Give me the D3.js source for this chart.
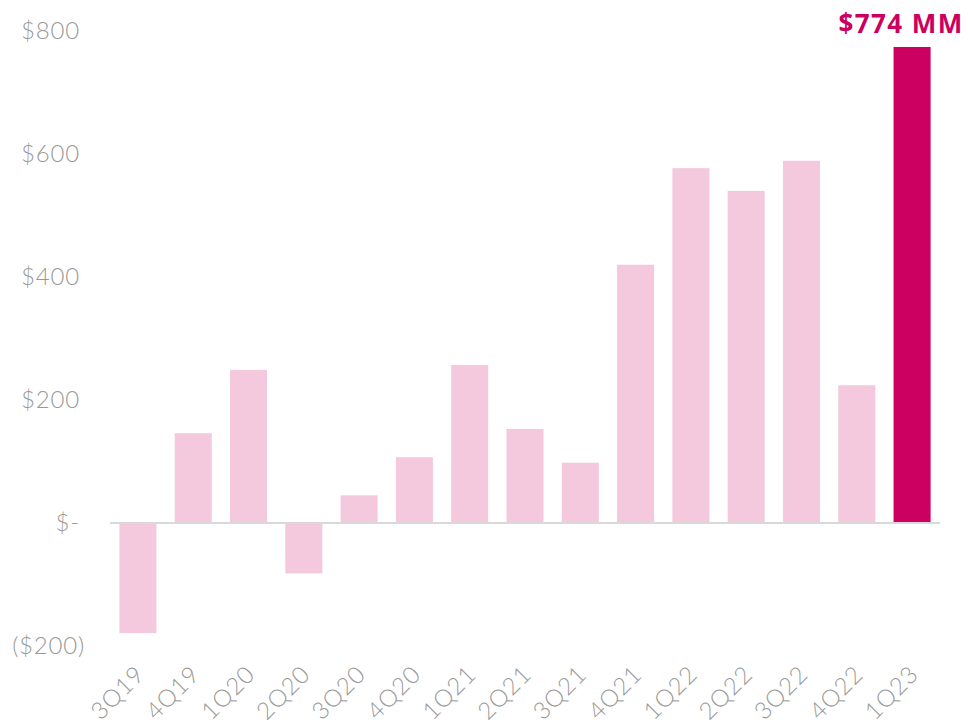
<!DOCTYPE html>
<html>
<head>
<meta charset="utf-8">
<script src="https://cdn.jsdelivr.net/npm/d3@7"></script>
<style>
  body { margin: 0; background: #fff; }
  svg { display: block; }
</style>
</head>
<body>
<div id="chart"></div>
<script>
// quarterly values, $MM
const quarters = ["3Q19", "4Q19", "1Q20", "2Q20", "3Q20", "4Q20", "1Q21", "2Q21",
                  "3Q21", "4Q21", "1Q22", "2Q22", "3Q22", "4Q22", "1Q23"];
const values = [-179, 146, 249, -82, 45, 107, 257, 153, 98, 420, 577, 540, 589, 224, 774];
const yTicks = [-200, 0, 200, 400, 600, 800];
const yTickLabels = ["($200)", "$-", "$200", "$400", "$600", "$800"];
const highlight = "1Q23";
const calloutText = "$774 MM";

const width = 968, height = 724;
const margin = {top: 31, right: 28, bottom: 78, left: 110};

const svg = d3.select("#chart")
  .append("svg")
  .attr("width", width)
  .attr("height", height);

// scales
let xScale = d3.scaleBand()
  .domain(quarters)
  .range([margin.left, width - margin.right])
  .paddingInner(0.33)
  .paddingOuter(0.17);

let yScale = d3.scaleLinear()
  .domain([-200, 800])
  .range([height - margin.bottom, margin.top]);

const data = quarters.map((q, i) => ({q: q, v: values[i]}));

// bars
svg.selectAll(".bar")
  .data(data)
  .enter()
  .append("rect")
    .attr("class", "bar")
    .attr("x", d => xScale(d.q))
    .attr("width", xScale.bandwidth())
    .attr("y", d => yScale(Math.max(0, d.v)))
    .attr("height", d => Math.abs(yScale(d.v) - yScale(0)))
    .attr("fill", d => d.q === highlight ? "#cc0060" : "#f4c9de");

// zero line
svg.append("line")
  .attr("x1", margin.left)
  .attr("x2", width - margin.right)
  .attr("y1", yScale(0))
  .attr("y2", yScale(0))
  .attr("stroke", "#d9d9d9")
  .attr("stroke-width", 2);

const tickFont = "Lato, 'Open Sans', sans-serif";

// y axis labels
const yAxis = svg.append("g")
  .attr("transform", `translate(80,0)`)
  .call(d3.axisLeft(yScale).tickValues(yTicks).tickSize(0).tickPadding(0)
    .tickFormat((d, i) => yTickLabels[i]));
yAxis.select(".domain").remove();
yAxis.selectAll("text")
  .attr("font-family", tickFont)
  .attr("font-weight", 300)
  .attr("font-size", "24px")
  .attr("letter-spacing", "0.8px")
  .attr("fill", "#9a9a9a")
  .attr("dx", d => d < 0 ? 5 : 0);

// x axis labels, rotated
const xAxis = svg.append("g")
  .attr("transform", `translate(0,${height - 54})`)
  .call(d3.axisBottom(xScale).tickSize(0).tickPadding(0));
xAxis.select(".domain").remove();
xAxis.selectAll("text")
  .attr("font-family", tickFont)
  .attr("font-weight", 300)
  .attr("font-size", "24px")
  .attr("letter-spacing", "0.8px")
  .attr("fill", "#9a9a9a")
  .attr("text-anchor", "end")
  .attr("dy", "0.35em")
  .attr("transform", "translate(2,0) rotate(-45)");

// callout for latest quarter
svg.append("text")
  .attr("x", xScale(highlight) + xScale.bandwidth() + 33)
  .attr("y", yScale(774) - 14)
  .attr("text-anchor", "end")
  .attr("font-family", "'Open Sans', Lato, sans-serif")
  .attr("font-weight", 700)
  .attr("font-size", "26px")
  .attr("letter-spacing", "1.4px")
  .attr("fill", "#cc0060")
  .text(calloutText);
</script>
</body>
</html>
